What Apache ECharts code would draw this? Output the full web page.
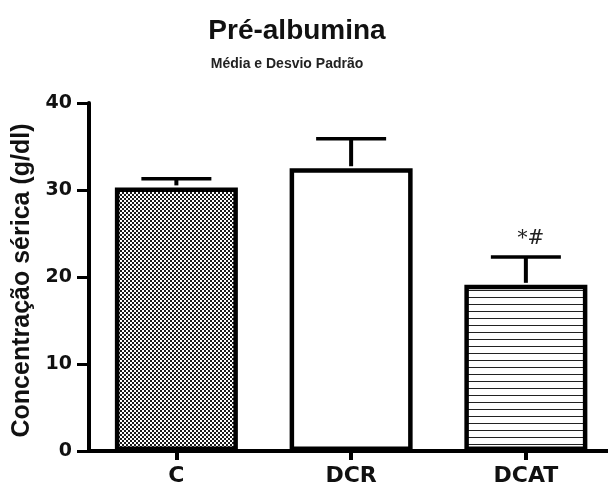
<!DOCTYPE html>
<html><head><meta charset="utf-8">
<script src="https://cdn.jsdelivr.net/npm/echarts@6/dist/echarts.min.js"></script>
<style>html,body{margin:0;padding:0;background:#fff}#c{width:608px;height:487px}</style>
</head><body><div id="c"></div>
<script>
const categories = ['C', 'DCR', 'DCAT'];
const means = [30.3, 32.5, 19.1];
const sds = [1.0, 3.4, 3.2];
const annotations = ['', '', '*#'];
const yTicks = [0, 10, 20, 30, 40];

function checker() {
  const c = document.createElement('canvas'); c.width = 4; c.height = 4;
  const g = c.getContext('2d');
  g.fillStyle = '#1a1a1a'; g.fillRect(0, 0, 4, 4);
  g.fillStyle = '#fff'; g.fillRect(0, 0, 2, 2); g.fillRect(2, 2, 2, 2);
  return c;
}
function hlines() {
  const c = document.createElement('canvas'); c.width = 4; c.height = 7;
  const g = c.getContext('2d');
  g.fillStyle = '#fff'; g.fillRect(0, 0, 4, 7);
  g.fillStyle = '#222'; g.fillRect(0, 3, 4, 1);
  return c;
}
const fills = [
  { image: checker(), repeat: 'repeat' },
  '#ffffff',
  { image: hlines(), repeat: 'repeat' }
];
const catIdx = categories.map((c, i) => i);

const chart = echarts.init(document.getElementById('c'));
const arial = 'Liberation Sans, Arial, sans-serif';
const wide = 'DejaVu Sans, sans-serif';
chart.setOption({
  animation: false,
  title: [
    { text: 'Pré-albumina', left: 292, top: 12, textAlign: 'center',
      textStyle: { fontFamily: arial, fontWeight: 'bold', fontSize: 28, color: '#111' } },
    { text: 'Média e Desvio Padrão', left: 282, top: 52, textAlign: 'center',
      textStyle: { fontFamily: arial, fontWeight: 'bold', fontSize: 14, color: '#222' } }
  ],
  grid: { left: 89, right: 0, top: 103, bottom: 36 },
  xAxis: {
    type: 'value', min: -0.5, max: 2.47,
    splitLine: { show: false },
    axisLine: { onZero: false, lineStyle: { color: '#000', width: 4 } },
    axisTick: { show: true, customValues: catIdx, length: 9, lineStyle: { color: '#000', width: 4 } },
    axisLabel: { customValues: catIdx, formatter: v => categories[Math.round(v)] || '',
      fontFamily: wide, fontWeight: 'bold', fontSize: 22, color: '#111', margin: 14 }
  },
  yAxis: {
    type: 'value', min: 0, max: 40, interval: 10,
    name: 'Concentração sérica (g/dl)', nameLocation: 'middle', nameGap: 52,
    nameTextStyle: { fontFamily: arial, fontWeight: 'bold', fontSize: 25, color: '#111', padding: [0, 7, 0, 0] },
    axisLine: { show: true, onZero: false, lineStyle: { color: '#000', width: 4 } },
    axisTick: { show: true, length: 12, lineStyle: { color: '#000', width: 3 } },
    splitLine: { show: false },
    axisLabel: { fontFamily: wide, fontWeight: 'bold', fontSize: 19, color: '#111', margin: 17,
      formatter: v => yTicks.includes(v) ? String(v) : '' }
  },
  series: [
    {
      type: 'bar', barWidth: 123,
      data: means.map((v, i) => ({ value: [i, v], itemStyle: { color: fills[i], borderColor: '#000', borderWidth: 4.5 } })),
      z: 2
    },
    {
      type: 'custom', z: 3,
      data: means.map((v, i) => [i, v, sds[i]]),
      renderItem: function (params, api) {
        const x = api.value(0), m = api.value(1), s = api.value(2);
        const p0 = api.coord([x, m]);
        const p1 = api.coord([x, m + s]);
        const half = 35;
        const children = [
          { type: 'line', shape: { x1: p0[0], y1: p0[1] - 2, x2: p1[0], y2: p1[1] }, style: { stroke: '#000', lineWidth: 4 } },
          { type: 'line', shape: { x1: p1[0] - half, y1: p1[1], x2: p1[0] + half, y2: p1[1] }, style: { stroke: '#000', lineWidth: 3.5 } }
        ];
        const ann = annotations[params.dataIndex];
        if (ann) {
          children.push({ type: 'text', style: { text: ann, x: p1[0] + 5, y: p1[1] - 8, align: 'center', verticalAlign: 'bottom',
            font: 'italic 20px DejaVu Serif, serif', fill: '#222' } });
        }
        return { type: 'group', children };
      }
    }
  ]
});
</script></body></html>
